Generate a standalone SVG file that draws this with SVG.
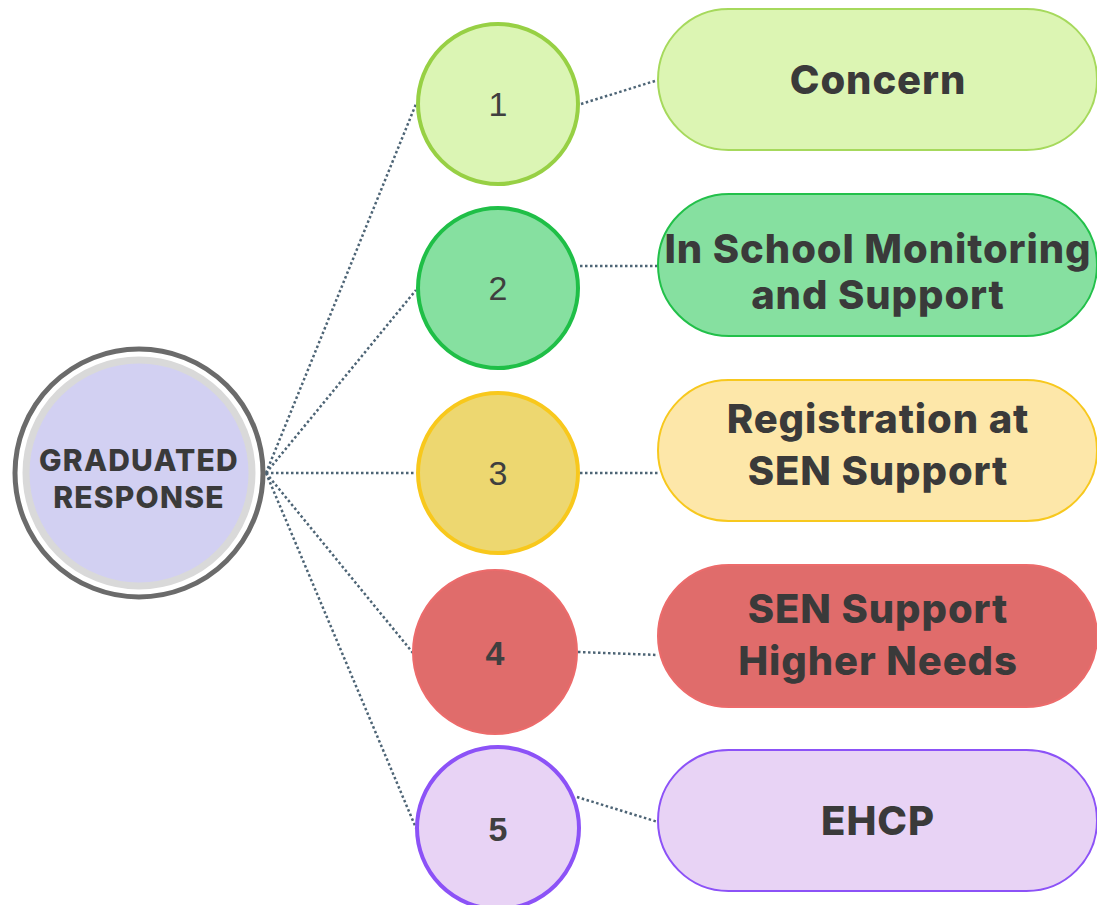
<svg xmlns="http://www.w3.org/2000/svg" width="1097" height="905" viewBox="0 0 1097 905">
<style>
.conn{fill:none;stroke:#4d6475;stroke-width:2.5;stroke-dasharray:2.5 2.5}
.lbl{font-family:Inter,"Noto Sans",sans-serif;font-weight:800;fill:#3a3a3a;text-anchor:middle}
.big{font-size:40px;letter-spacing:0.9px}
.num{font-family:"Liberation Sans",Arial,sans-serif;font-size:34px;text-anchor:middle;fill:#3f3f3f}
</style>
<rect width="1097" height="905" fill="#ffffff"/>
<g id="connectors">
<line class="conn" x1="266" y1="473" x2="416" y2="104"/>
<line class="conn" x1="266" y1="473" x2="416" y2="290"/>
<line class="conn" x1="266" y1="473" x2="416" y2="473"/>
<line class="conn" x1="266" y1="473" x2="413" y2="653"/>
<line class="conn" x1="266" y1="473" x2="416" y2="828"/>
<line class="conn" x1="581" y1="104" x2="658" y2="80"/>
<line class="conn" x1="580" y1="266" x2="658" y2="266"/>
<line class="conn" x1="580" y1="473" x2="658" y2="473"/>
<line class="conn" x1="578" y1="652" x2="658" y2="655"/>
<line class="conn" x1="577" y1="797" x2="658" y2="822"/>
</g>
<g id="root">
<circle cx="139" cy="473" r="124" fill="#ffffff" stroke="#6b6b6b" stroke-width="5"/>
<circle cx="139" cy="473" r="113" fill="#d2d0f2" stroke="#d9d9d9" stroke-width="7"/>
<text class="lbl" x="139" y="471" font-size="30" letter-spacing="1.2">GRADUATED</text>
<text class="lbl" x="139" y="508" font-size="30" letter-spacing="1.2">RESPONSE</text>
</g>
<g id="c1">
<circle cx="498" cy="104" r="80" fill="#dbf5b4" stroke="#97d044" stroke-width="4"/>
<text class="num" x="498" y="116" fill="#111">1</text>
</g>
<g id="c2">
<circle cx="498" cy="288" r="80" fill="#86e0a0" stroke="#1fbf47" stroke-width="4"/>
<text class="num" x="498" y="300">2</text>
</g>
<g id="c3">
<circle cx="498" cy="473" r="80" fill="#edd770" stroke="#f8c81c" stroke-width="4"/>
<text class="num" x="498" y="485">3</text>
</g>
<g id="c4">
<circle cx="495" cy="652" r="82" fill="#e06c6b" stroke="#ec6b6b" stroke-width="2"/>
<text class="num" x="495" y="665" font-weight="700" fill="#333">4</text>
</g>
<g id="c5">
<circle cx="498" cy="828" r="81" fill="#e8d3f5" stroke="#8c52f7" stroke-width="4"/>
<text class="num" x="498" y="841" font-weight="700" fill="#333">5</text>
</g>
<g id="p1">
<rect x="658" y="9" width="439" height="141" rx="70.5" fill="#dcf5b3" stroke="#a6d95c" stroke-width="2"/>
<text class="lbl big" x="878" y="94">Concern</text>
</g>
<g id="p2">
<rect x="658" y="194" width="439" height="142" rx="71" fill="#86e0a0" stroke="#22c04a" stroke-width="2"/>
<text class="lbl big" x="878" y="263">In School Monitoring</text>
<text class="lbl big" x="878" y="309">and Support</text>
</g>
<g id="p3">
<rect x="658" y="380" width="439" height="141" rx="70.5" fill="#fde7a9" stroke="#f7c81e" stroke-width="2"/>
<text class="lbl big" x="878" y="433">Registration at</text>
<text class="lbl big" x="878" y="485">SEN Support</text>
</g>
<g id="p4">
<rect x="658" y="565" width="439" height="142" rx="71" fill="#e06c6b" stroke="#ec6b6b" stroke-width="2"/>
<text class="lbl big" x="878" y="623">SEN Support</text>
<text class="lbl big" x="878" y="675">Higher Needs</text>
</g>
<g id="p5">
<rect x="658" y="750" width="439" height="141" rx="70.5" fill="#e8d3f5" stroke="#8c52f7" stroke-width="2"/>
<text class="lbl big" x="878" y="835">EHCP</text>
</g>
</svg>
